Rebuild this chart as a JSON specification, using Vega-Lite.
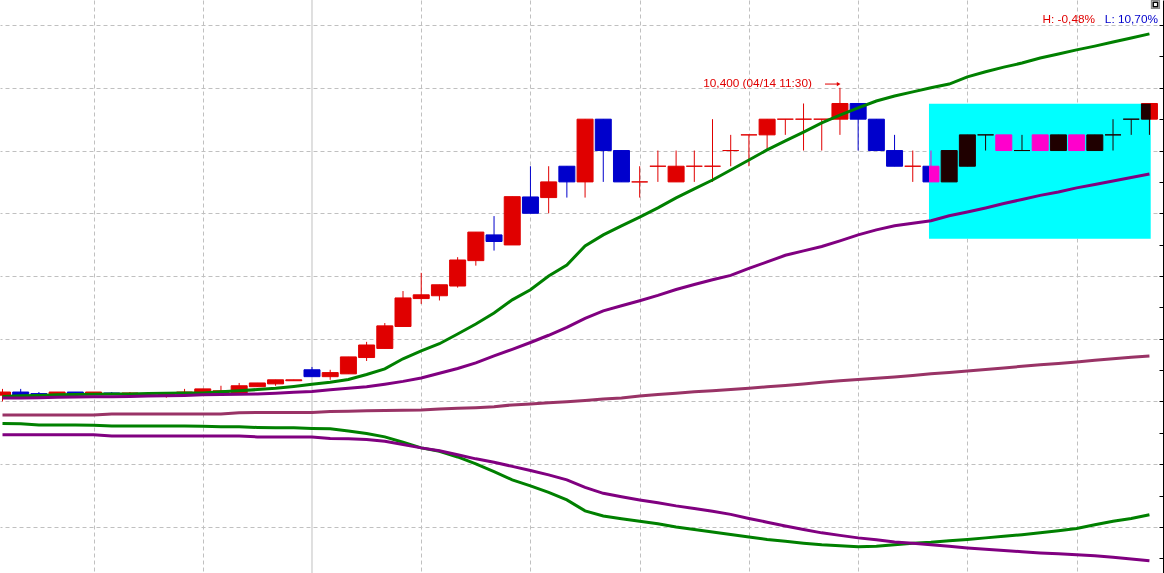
{
  "$schema": "https://vega.github.io/schema/vega-lite/v6.json",
  "description": "Candlestick chart with moving average and band lines, highlighted range",
  "width": 1164,
  "height": 573,
  "autosize": "none",
  "padding": 0,
  "background": "white",
  "config": {"view": {"stroke": null}},
  "datasets": {
    "bars": [
      {"i": 0, "o": 9420, "h": 9440, "l": 9400, "c": 9430, "g1": 9416, "p1": 9411, "m": 9357, "g2": 9330, "p2": 9294},
      {"i": 1, "o": 9430, "h": 9440, "l": 9420, "c": 9420, "g1": 9418, "p1": 9411, "m": 9357, "g2": 9329, "p2": 9294},
      {"i": 2, "o": 9425, "h": 9430, "l": 9420, "c": 9420, "g1": 9419, "p1": 9412, "m": 9357, "g2": 9325, "p2": 9294},
      {"i": 3, "o": 9420, "h": 9430, "l": 9420, "c": 9430, "g1": 9421, "p1": 9413, "m": 9357, "g2": 9325, "p2": 9294},
      {"i": 4, "o": 9430, "h": 9430, "l": 9422, "c": 9422, "g1": 9422, "p1": 9414, "m": 9357, "g2": 9325, "p2": 9294},
      {"i": 5, "o": 9422, "h": 9430, "l": 9422, "c": 9430, "g1": 9423, "p1": 9415, "m": 9357, "g2": 9324, "p2": 9294},
      {"i": 6, "o": 9427, "h": 9430, "l": 9424, "c": 9424, "g1": 9424, "p1": 9415, "m": 9360, "g2": 9322, "p2": 9290},
      {"i": 7, "o": 9424, "h": 9430, "l": 9424, "c": 9427, "g1": 9424, "p1": 9416, "m": 9360, "g2": 9322, "p2": 9290},
      {"i": 8, "o": 9425, "h": 9427, "l": 9423, "c": 9425, "g1": 9425, "p1": 9417, "m": 9360, "g2": 9322, "p2": 9290},
      {"i": 9, "o": 9420, "h": 9425, "l": 9412, "c": 9424, "g1": 9426, "p1": 9418, "m": 9360, "g2": 9322, "p2": 9290},
      {"i": 10, "o": 9424, "h": 9440, "l": 9424, "c": 9430, "g1": 9427, "p1": 9419, "m": 9360, "g2": 9322, "p2": 9290},
      {"i": 11, "o": 9430, "h": 9440, "l": 9430, "c": 9440, "g1": 9427, "p1": 9421, "m": 9360, "g2": 9321, "p2": 9290},
      {"i": 12, "o": 9427, "h": 9450, "l": 9427, "c": 9434, "g1": 9431, "p1": 9422, "m": 9360, "g2": 9319, "p2": 9290},
      {"i": 13, "o": 9427, "h": 9459, "l": 9427, "c": 9450, "g1": 9434, "p1": 9423, "m": 9364, "g2": 9319, "p2": 9290},
      {"i": 14, "o": 9447, "h": 9459, "l": 9447, "c": 9459, "g1": 9438, "p1": 9424, "m": 9365, "g2": 9317, "p2": 9287},
      {"i": 15, "o": 9456, "h": 9469, "l": 9450, "c": 9469, "g1": 9442, "p1": 9426, "m": 9365, "g2": 9316, "p2": 9287},
      {"i": 16, "o": 9466, "h": 9469, "l": 9466, "c": 9469, "g1": 9448, "p1": 9429, "m": 9365, "g2": 9316, "p2": 9287},
      {"i": 17, "o": 9501, "h": 9510, "l": 9479, "c": 9479, "g1": 9455, "p1": 9432, "m": 9365, "g2": 9314, "p2": 9287},
      {"i": 18, "o": 9479, "h": 9501, "l": 9469, "c": 9492, "g1": 9461, "p1": 9437, "m": 9368, "g2": 9313, "p2": 9282},
      {"i": 19, "o": 9488, "h": 9542, "l": 9488, "c": 9542, "g1": 9470, "p1": 9442, "m": 9369, "g2": 9306, "p2": 9281},
      {"i": 20, "o": 9540, "h": 9590, "l": 9529, "c": 9580, "g1": 9486, "p1": 9447, "m": 9370, "g2": 9298, "p2": 9279},
      {"i": 21, "o": 9569, "h": 9650, "l": 9569, "c": 9641, "g1": 9504, "p1": 9455, "m": 9371, "g2": 9287, "p2": 9273},
      {"i": 22, "o": 9639, "h": 9752, "l": 9639, "c": 9730, "g1": 9536, "p1": 9464, "m": 9372, "g2": 9270, "p2": 9263},
      {"i": 23, "o": 9728, "h": 9810, "l": 9711, "c": 9740, "g1": 9561, "p1": 9475, "m": 9373, "g2": 9252, "p2": 9252},
      {"i": 24, "o": 9737, "h": 9772, "l": 9722, "c": 9772, "g1": 9584, "p1": 9490, "m": 9376, "g2": 9241, "p2": 9243},
      {"i": 25, "o": 9768, "h": 9860, "l": 9763, "c": 9851, "g1": 9615, "p1": 9505, "m": 9378, "g2": 9223, "p2": 9230},
      {"i": 26, "o": 9849, "h": 9940, "l": 9833, "c": 9940, "g1": 9647, "p1": 9523, "m": 9380, "g2": 9201, "p2": 9217},
      {"i": 27, "o": 9931, "h": 9991, "l": 9881, "c": 9910, "g1": 9682, "p1": 9545, "m": 9383, "g2": 9176, "p2": 9206},
      {"i": 28, "o": 9899, "h": 10053, "l": 9899, "c": 10053, "g1": 9724, "p1": 9566, "m": 9389, "g2": 9150, "p2": 9193},
      {"i": 29, "o": 10052, "h": 10150, "l": 10000, "c": 10000, "g1": 9756, "p1": 9588, "m": 9392, "g2": 9131, "p2": 9180},
      {"i": 30, "o": 10050, "h": 10150, "l": 10000, "c": 10100, "g1": 9800, "p1": 9611, "m": 9396, "g2": 9110, "p2": 9166},
      {"i": 31, "o": 10150, "h": 10150, "l": 10050, "c": 10100, "g1": 9835, "p1": 9636, "m": 9399, "g2": 9086, "p2": 9150},
      {"i": 32, "o": 10100, "h": 10300, "l": 10050, "c": 10300, "g1": 9896, "p1": 9665, "m": 9403, "g2": 9051, "p2": 9126},
      {"i": 33, "o": 10300, "h": 10300, "l": 10100, "c": 10200, "g1": 9931, "p1": 9689, "m": 9408, "g2": 9035, "p2": 9107},
      {"i": 34, "o": 10200, "h": 10200, "l": 10100, "c": 10100, "g1": 9960, "p1": 9705, "m": 9411, "g2": 9026, "p2": 9096},
      {"i": 35, "o": 10100, "h": 10150, "l": 10050, "c": 10100, "g1": 9988, "p1": 9721, "m": 9417, "g2": 9018, "p2": 9086},
      {"i": 36, "o": 10150, "h": 10200, "l": 10100, "c": 10150, "g1": 10017, "p1": 9738, "m": 9422, "g2": 9010, "p2": 9077},
      {"i": 37, "o": 10100, "h": 10200, "l": 10100, "c": 10150, "g1": 10049, "p1": 9757, "m": 9426, "g2": 9000, "p2": 9067},
      {"i": 38, "o": 10150, "h": 10200, "l": 10100, "c": 10150, "g1": 10078, "p1": 9773, "m": 9431, "g2": 8992, "p2": 9059},
      {"i": 39, "o": 10150, "h": 10300, "l": 10100, "c": 10150, "g1": 10106, "p1": 9788, "m": 9434, "g2": 8984, "p2": 9050},
      {"i": 40, "o": 10200, "h": 10250, "l": 10150, "c": 10200, "g1": 10138, "p1": 9802, "m": 9438, "g2": 8976, "p2": 9040},
      {"i": 41, "o": 10250, "h": 10250, "l": 10150, "c": 10250, "g1": 10170, "p1": 9824, "m": 9442, "g2": 8968, "p2": 9027},
      {"i": 42, "o": 10250, "h": 10300, "l": 10200, "c": 10300, "g1": 10202, "p1": 9845, "m": 9447, "g2": 8960, "p2": 9015},
      {"i": 43, "o": 10300, "h": 10300, "l": 10250, "c": 10300, "g1": 10231, "p1": 9866, "m": 9451, "g2": 8954, "p2": 9003},
      {"i": 44, "o": 10300, "h": 10350, "l": 10200, "c": 10300, "g1": 10259, "p1": 9880, "m": 9456, "g2": 8948, "p2": 8992},
      {"i": 45, "o": 10300, "h": 10300, "l": 10200, "c": 10300, "g1": 10288, "p1": 9894, "m": 9461, "g2": 8943, "p2": 8981},
      {"i": 46, "o": 10300, "h": 10400, "l": 10250, "c": 10350, "g1": 10313, "p1": 9912, "m": 9466, "g2": 8940, "p2": 8973},
      {"i": 47, "o": 10350, "h": 10350, "l": 10200, "c": 10300, "g1": 10336, "p1": 9931, "m": 9470, "g2": 8937, "p2": 8965},
      {"i": 48, "o": 10300, "h": 10300, "l": 10200, "c": 10200, "g1": 10358, "p1": 9947, "m": 9474, "g2": 8938, "p2": 8959},
      {"i": 49, "o": 10200, "h": 10250, "l": 10150, "c": 10150, "g1": 10374, "p1": 9960, "m": 9478, "g2": 8943, "p2": 8952},
      {"i": 50, "o": 10150, "h": 10200, "l": 10100, "c": 10150, "g1": 10387, "p1": 9968, "m": 9483, "g2": 8948, "p2": 8948},
      {"i": 51, "o": 10150, "h": 10200, "l": 10100, "c": 10100, "g1": 10400, "p1": 9976, "m": 9488, "g2": 8951, "p2": 8943},
      {"i": 52, "o": 10100, "h": 10200, "l": 10100, "c": 10200, "g1": 10412, "p1": 9992, "m": 9492, "g2": 8956, "p2": 8938},
      {"i": 53, "o": 10150, "h": 10250, "l": 10150, "c": 10250, "g1": 10435, "p1": 10004, "m": 9497, "g2": 8960, "p2": 8933},
      {"i": 54, "o": 10250, "h": 10250, "l": 10200, "c": 10250, "g1": 10451, "p1": 10017, "m": 9502, "g2": 8965, "p2": 8929},
      {"i": 55, "o": 10250, "h": 10250, "l": 10200, "c": 10200, "g1": 10466, "p1": 10031, "m": 9507, "g2": 8970, "p2": 8925},
      {"i": 56, "o": 10200, "h": 10250, "l": 10200, "c": 10200, "g1": 10479, "p1": 10044, "m": 9512, "g2": 8975, "p2": 8921},
      {"i": 57, "o": 10250, "h": 10250, "l": 10200, "c": 10200, "g1": 10495, "p1": 10057, "m": 9517, "g2": 8981, "p2": 8917},
      {"i": 58, "o": 10200, "h": 10250, "l": 10200, "c": 10250, "g1": 10508, "p1": 10068, "m": 9521, "g2": 8988, "p2": 8914},
      {"i": 59, "o": 10250, "h": 10250, "l": 10200, "c": 10200, "g1": 10521, "p1": 10081, "m": 9526, "g2": 8995, "p2": 8911},
      {"i": 60, "o": 10200, "h": 10250, "l": 10200, "c": 10250, "g1": 10533, "p1": 10092, "m": 9531, "g2": 9007, "p2": 8908},
      {"i": 61, "o": 10250, "h": 10300, "l": 10200, "c": 10250, "g1": 10546, "p1": 10103, "m": 9536, "g2": 9018, "p2": 8903},
      {"i": 62, "o": 10300, "h": 10300, "l": 10250, "c": 10300, "g1": 10559, "p1": 10114, "m": 9541, "g2": 9027, "p2": 8898},
      {"i": 63, "o": 10300, "h": 10350, "l": 10250, "c": 10350, "g1": 10572, "p1": 10125, "m": 9545, "g2": 9039, "p2": 8892}
    ],
    "box": [{"i": 50.89, "i2": 63.07, "top": 10349, "bot": 9919}]
  },
  "data": {"name": "bars"},
  "encoding": {
    "x": {
      "field": "i",
      "type": "quantitative",
      "scale": {"domain": [-0.137, 63.8], "nice": false, "zero": false, "padding": 0},
      "axis": {
        "orient": "bottom",
        "values": [5, 11, 23, 29, 35, 41, 47, 53, 59],
        "labels": false,
        "ticks": false,
        "domain": false,
        "title": null,
        "grid": true,
        "gridColor": "#c0c0c0",
        "gridDash": [4, 3],
        "gridWidth": 1
      }
    }
  },
  "resolve": {"axis": {"y": "independent"}},
  "layer": [
    {
      "data": {"values": [{"i": 17}]},
      "mark": {"type": "rule", "color": "#c0c0c0", "strokeWidth": 1},
      "encoding": {}
    },
    {
      "data": {"name": "box"},
      "mark": {"type": "rect", "fill": "white"},
      "encoding": {
        "x2": {"field": "i2"},
        "y": {"field": "top", "type": "quantitative", "scale": {"domain": [8853, 10680], "nice": false, "zero": false, "padding": 0}, "axis": null},
        "y2": {"field": "bot"}
      }
    },
    {
      "mark": {"type": "rule", "strokeWidth": 1},
      "encoding": {
        "y": {
          "field": "l",
          "type": "quantitative",
          "scale": {"domain": [8853, 10680], "nice": false, "zero": false, "padding": 0},
          "axis": {
            "orient": "right",
            "offset": -1,
            "values": [8900, 9000, 9100, 9200, 9300, 9400, 9500, 9600, 9700, 9800, 9900, 10000, 10100, 10200, 10300, 10400, 10500, 10600],
            "labels": false,
            "title": null,
            "domain": true,
            "domainColor": "black",
            "domainWidth": 1,
            "ticks": true,
            "tickColor": "black",
            "tickSize": -4,
            "grid": true,
            "gridColor": "#c0c0c0",
            "gridDash": [4, 3],
            "gridOpacity": {"condition": {"test": "datum.value % 200 === 0", "value": 1}, "value": 0}
          }
        },
        "y2": {"field": "h"},
        "color": {"condition": {"test": "datum.c < datum.o", "value": "#0000cc"}, "value": "#e00000"}
      }
    },
    {
      "mark": {"type": "bar", "size": 16, "strokeWidth": 1},
      "encoding": {
        "y": {"field": "o", "type": "quantitative", "scale": {"domain": [8853, 10680], "nice": false, "zero": false, "padding": 0}, "axis": null},
        "y2": {"field": "c"},
        "fill": {"condition": {"test": "datum.c < datum.o", "value": "#0000cc"}, "value": "#e00000"},
        "stroke": {"condition": {"test": "datum.c < datum.o", "value": "#0000cc"}, "value": "#e00000"}
      }
    },
    {
      "transform": [{"fold": ["g1", "p1", "m", "g2", "p2"], "as": ["k", "v"]}],
      "mark": {"type": "line", "strokeWidth": 3},
      "encoding": {
        "y": {"field": "v", "type": "quantitative", "scale": {"domain": [8853, 10680], "nice": false, "zero": false, "padding": 0}, "axis": null},
        "color": {
          "field": "k",
          "type": "nominal",
          "scale": {"domain": ["g1", "p1", "m", "g2", "p2"], "range": ["#008000", "#800080", "#993366", "#008000", "#800080"]},
          "legend": null
        }
      }
    },
    {
      "data": {"name": "box"},
      "mark": {"type": "rect", "fill": "#ff0000", "blend": "difference"},
      "encoding": {
        "x2": {"field": "i2"},
        "y": {"field": "top", "type": "quantitative", "scale": {"domain": [8853, 10680], "nice": false, "zero": false, "padding": 0}, "axis": null},
        "y2": {"field": "bot"}
      }
    },
    {
      "data": {"values": [{"i": 44.46, "p": 10403, "t": "10,400 (04/14 11:30)"}, {"i": 60.01, "p": 10607, "t": "H: -0,48%"}]},
      "mark": {"type": "text", "align": "right", "baseline": "alphabetic", "font": "Liberation Sans, Arial, sans-serif", "fontSize": 11.8, "color": "#e00000"},
      "encoding": {
        "y": {"field": "p", "type": "quantitative", "scale": {"domain": [8853, 10680], "nice": false, "zero": false, "padding": 0}, "axis": null},
        "text": {"field": "t"}
      }
    },
    {
      "data": {"values": [{"i": 63.47, "p": 10607, "t": "L: 10,70%"}]},
      "mark": {"type": "text", "align": "right", "baseline": "alphabetic", "font": "Liberation Sans, Arial, sans-serif", "fontSize": 11.8, "color": "#0000cc"},
      "encoding": {
        "y": {"field": "p", "type": "quantitative", "scale": {"domain": [8853, 10680], "nice": false, "zero": false, "padding": 0}, "axis": null},
        "text": {"field": "t"}
      }
    },
    {
      "data": {"values": [{"i": 45.18, "i2": 45.95, "p": 10412}]},
      "mark": {"type": "rule", "color": "#e00000", "strokeWidth": 1},
      "encoding": {
        "x2": {"field": "i2"},
        "y": {"field": "p", "type": "quantitative", "scale": {"domain": [8853, 10680], "nice": false, "zero": false, "padding": 0}, "axis": null}
      }
    },
    {
      "data": {"values": [{"i": 45.93, "p": 10412}]},
      "mark": {"type": "point", "shape": "triangle-right", "size": 18, "filled": true, "color": "#e00000", "opacity": 1},
      "encoding": {
        "y": {"field": "p", "type": "quantitative", "scale": {"domain": [8853, 10680], "nice": false, "zero": false, "padding": 0}, "axis": null}
      }
    },
    {
      "data": {"values": [{"i": 63.33, "p": 10666}]},
      "mark": {"type": "point", "shape": "square", "size": 64, "fill": "white", "stroke": "#8a8a8a", "strokeWidth": 1.2, "opacity": 1},
      "encoding": {
        "y": {"field": "p", "type": "quantitative", "scale": {"domain": [8853, 10680], "nice": false, "zero": false, "padding": 0}, "axis": null}
      }
    },
    {
      "data": {"values": [{"i": 63.33, "p": 10666}]},
      "mark": {"type": "point", "shape": "square", "size": 20, "fill": "white", "stroke": "black", "strokeWidth": 1.5, "opacity": 1},
      "encoding": {
        "y": {"field": "p", "type": "quantitative", "scale": {"domain": [8853, 10680], "nice": false, "zero": false, "padding": 0}, "axis": null}
      }
    }
  ]
}
